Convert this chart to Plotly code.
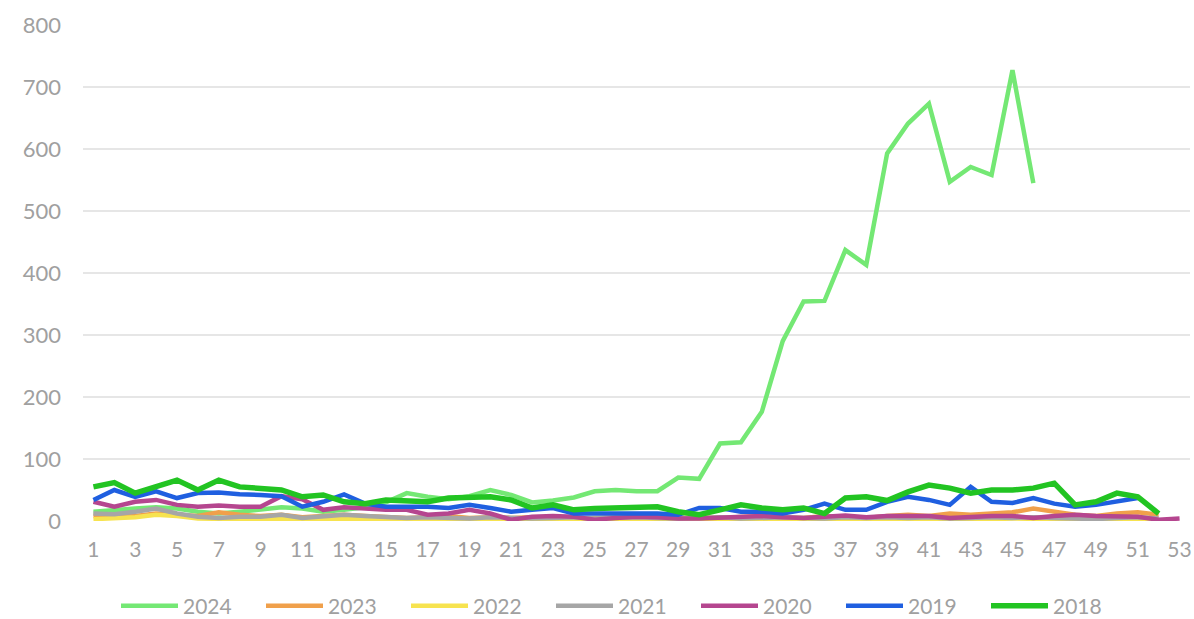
import plotly.graph_objects as go

weeks = list(range(1, 54))

s2024 = [15, 18, 20, 22, 20, 15, 12, 15, 18, 22, 20, 15, 18, 22, 30, 45, 39, 35, 40, 50,
         42, 30, 33, 38, 48, 50, 48, 48, 70, 68, 125, 127, 176, 290, 354, 355, 437, 413, 593, 641,
         673, 547, 571, 558, 727, 545]
s2023 = [8, 10, 8, 12, 10, 8, 14, 10, 8, 10, 6, 8, 10, 8, 6, 5, 6, 8, 5, 6,
         5, 6, 5, 4, 5, 6, 5, 4, 5, 6, 5, 6, 8, 6, 5, 8, 6, 5, 8, 10,
         8, 12, 10, 12, 14, 20, 15, 10, 8, 12, 14, 10]
s2022 = [3, 4, 6, 10, 8, 4, 3, 3, 4, 3, 2, 3, 4, 3, 2, 3, 2, 2, 3, 2,
         2, 3, 2, 2, 3, 2, 2, 2, 3, 2, 2, 3, 2, 2, 3, 2, 2, 3, 2, 3,
         2, 3, 2, 3, 4, 3, 3, 4, 3, 3, 3, 2]
s2021 = [12, 11, 15, 20, 12, 7, 5, 7, 7, 10, 5, 7, 10, 8, 7, 5, 6, 5, 4, 6,
         5, 4, 5, 6, 4, 5, 6, 5, 4, 5, 6, 4, 5, 6, 5, 4, 6, 5, 6, 5,
         6, 4, 5, 6, 5, 6, 5, 4, 3, 5, 6, 4]
s2020 = [31, 23, 31, 34, 26, 23, 25, 23, 23, 40, 35, 18, 22, 20, 18, 18, 10, 12, 18, 12,
         2, 7, 8, 7, 2, 5, 7, 6, 4, 4, 5, 6, 8, 6, 5, 7, 9, 6, 8, 8,
         8, 5, 7, 8, 8, 5, 8, 10, 8, 7, 7, 2, 4]
s2019 = [34, 50, 39, 48, 37, 45, 46, 43, 42, 40, 23, 31, 43, 28, 23, 23, 23, 21, 26, 21,
         15, 18, 21, 12, 12, 12, 12, 12, 10, 21, 21, 15, 15, 12, 18, 28, 18, 18, 31, 39,
         34, 26, 55, 31, 29, 37, 28, 23, 26, 31, 37]
s2018 = [55, 62, 45, 55, 66, 50, 66, 55, 53, 50, 39, 42, 31, 28, 34, 32, 31, 37, 37, 39,
         34, 21, 26, 18, 20, 21, 21, 23, 15, 10, 18, 26, 21, 18, 21, 12, 37, 39, 33, 47,
         58, 53, 45, 50, 50, 53, 61, 26, 31, 45, 39, 12]

series_names = ["2024", "2023", "2022", "2021", "2020", "2019", "2018"]
series_values = [s2024, s2023, s2022, s2021, s2020, s2019, s2018]
colors = ["#74e874", "#f0a04b", "#f7e34f", "#a6a6a6", "#b5468f", "#1f5fe0", "#22c422"]
widths = [4.5, 4.5, 4.5, 4.5, 4.5, 4.5, 5.5]

x_tick_vals = list(range(1, 54, 2))
y_tick_vals = [0, 100, 200, 300, 400, 500, 600, 700, 800]

fig = go.Figure()
for name, vals, col, w in zip(series_names, series_values, colors, widths):
    fig.add_trace(go.Scatter(
        x=weeks[:len(vals)], y=vals, name=name, mode="lines",
        line=dict(color=col, width=w),
    ))

fig_w, fig_h = 1194, 619
font_family = "Lato, 'Open Sans', sans-serif"
fig.update_layout(
    width=fig_w, height=fig_h,
    margin=dict(l=83, r=4, t=25, b=98, autoexpand=False),
    paper_bgcolor="white", plot_bgcolor="white",
    font=dict(family=font_family, color="#a0a0a0", size=21),
    showlegend=True,
    legend=dict(
        orientation="h",
        xref="container", x=116 / fig_w, xanchor="left",
        yref="container", y=1 - 606 / fig_h, yanchor="middle",
        font=dict(size=21, color="#a0a0a0", family=font_family),
        entrywidth=73, entrywidthmode="pixels",
        itemwidth=57, bgcolor="rgba(0,0,0,0)",
    ),
    xaxis=dict(
        range=[0.5, 53.5], tickmode="array", tickvals=x_tick_vals,
        ticktext=[str(v) for v in x_tick_vals],
        showgrid=False, zeroline=False, showline=False, ticks="",
        ticklabelstandoff=14, automargin=False,
        tickfont=dict(size=21, color="#a0a0a0"),
    ),
    yaxis=dict(
        range=[0, 800], tickmode="array", tickvals=y_tick_vals,
        showgrid=True, gridcolor="#e6e6e6", gridwidth=1.5,
        zeroline=False, showline=False, ticks="",
        ticklabelstandoff=21, automargin=False,
        tickfont=dict(size=22, color="#a0a0a0"),
    ),
)

# remove the default 8px body margin so the figure fills the window exactly
fig.write_html(
    "out.html",
    config={"displayModeBar": False},
    post_script="document.body.style.margin='0px';document.body.style.overflow='hidden';",
)
